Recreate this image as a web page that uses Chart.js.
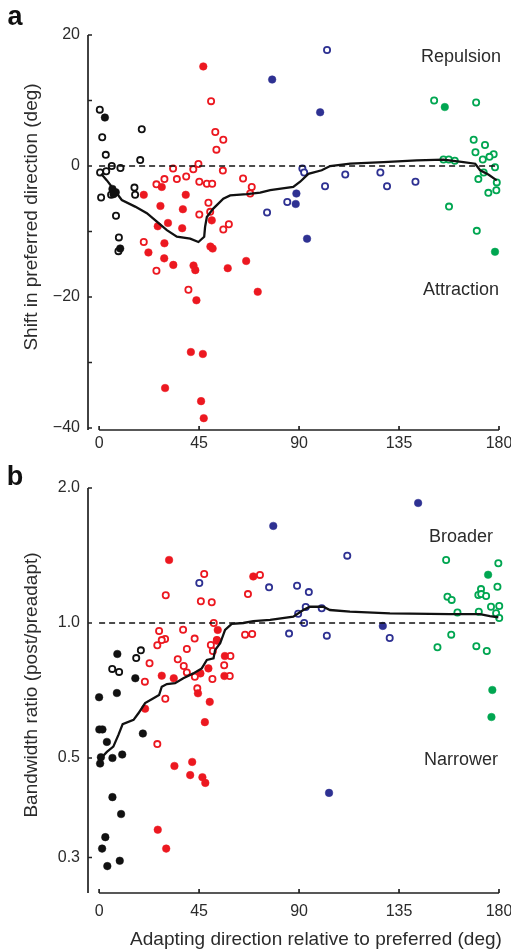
<!DOCTYPE html>
<html>
<head>
<meta charset="utf-8">
<script src="https://cdn.jsdelivr.net/npm/chart.js@4/dist/chart.umd.min.js"></script>
<style>
  html, body { margin: 0; padding: 0; background: #fff; }
  #wrap { position: relative; width: 511px; height: 952px; }
  #ca { position: absolute; left: 0; top: 0; }
  #cb { position: absolute; left: 0; top: 450px; }
</style>
</head>
<body>
<div id="wrap">
  <canvas id="ca" width="511" height="450"></canvas>
  <canvas id="cb" width="511" height="502"></canvas>
</div>
<script>
// ---- data, panel a: shift in preferred direction (deg) ----
const xTicks = [0, 45, 90, 135, 180];
const aTicks = [-40, -30, -20, -10, 0, 10, 20];
const bTicks = [0.3, 0.5, 1.0, 2.0];

const aBlackOpen = [[0.3,8.6],[1.4,4.4],[19.2,5.6],[3.0,1.7],[5.7,0],[9.6,-0.3],[18.5,0.9],[0.45,-1.0],[3.2,-0.8],
  [5.4,-4.4],[15.9,-3.3],[16.2,-4.4],[0.9,-4.8],[7.6,-7.6],[8.9,-10.9],[8.7,-13.0]];
const aBlackFill = [[2.6,7.4],[6.0,-3.5],[7.5,-4.0],[6.5,-4.3],[9.5,-12.6]];
const aRedOpen = [[50.4,9.9],[52.3,5.2],[55.9,4.0],[52.8,2.5],[33.3,-0.4],[44.7,0.3],[42.4,-0.5],[55.7,-0.7],
  [29.4,-2.0],[35,-2.0],[39.2,-1.6],[25.8,-2.8],[45.1,-2.4],[48.5,-2.7],[50.9,-2.7],[64.8,-1.9],[68.7,-3.2],
  [68,-4.2],[49.2,-5.6],[45.1,-7.4],[50,-7.0],[58.4,-8.9],[55.9,-9.7],[20.1,-11.6],[25.8,-16.0],[40.2,-18.9]];
const aRedFill = [[46.9,15.2],[28.2,-3.2],[20.1,-4.4],[39,-4.4],[27.6,-6.1],[37.7,-6.6],[50.7,-8.3],[31.0,-8.7],
  [26.4,-9.2],[37.4,-9.5],[29.4,-11.8],[22.2,-13.2],[29.3,-14.1],[33.4,-15.1],[42.5,-15.2],[43.3,-15.9],
  [50.1,-12.3],[51.1,-12.6],[57.9,-15.6],[66.2,-14.5],[71.4,-19.2],[43.8,-20.5],[41.3,-28.4],[46.7,-28.7],
  [29.7,-33.9],[45.9,-35.9],[47.1,-38.5]];
const aBlueOpen = [[102.6,17.7],[91.5,-0.4],[92.3,-1.0],[110.8,-1.3],[126.6,-1.0],[101.7,-3.1],[129.6,-3.1],
  [142.4,-2.4],[84.7,-5.5],[75.6,-7.1]];
const aBlueFill = [[77.9,13.2],[99.5,8.2],[88.8,-4.2],[88.5,-5.8],[93.6,-11.1]];
const aGreenOpen = [[150.8,10.0],[169.7,9.7],[168.6,4.0],[173.7,3.2],[169.4,2.1],[177.6,1.8],[175.7,1.4],
  [172.7,1.0],[178.2,-0.2],[155,1.0],[157.4,1.0],[160.1,0.8],[173.1,-1.0],[170.7,-2.0],[179,-2.5],[178.8,-3.7],
  [175.2,-4.1],[157.5,-6.2],[170,-9.9]];
const aGreenFill = [[155.6,9.0],[178.2,-13.1]];
const aMean = [[0.9,-1.2],[3.5,-2.2],[8,-4.2],[10.2,-5.2],[16.2,-6.2],[21.5,-7.2],[26,-8.5],[30.5,-9.8],[35,-10.8],
  [41,-11.1],[44.7,-11.6],[47.3,-10.8],[47.7,-9.3],[48.5,-7.8],[51.4,-6.5],[55.9,-5.0],[59,-4.5],[66.5,-4.3],
  [72.5,-4.05],[77,-3.7],[87.4,-3.2],[90.5,-2.4],[94.2,-1.2],[100.2,-0.65],[104,0],[113,0.35],[128,0.6],
  [143,0.87],[155,0.97],[164,0.6],[169.3,0.35],[171.5,-0.65],[175.2,-1.3],[179,-2.2]];

// ---- data, panel b: bandwidth ratio (post/preadapt) ----
const bBlackOpen = [[18.8,0.869],[16.7,0.835],[5.9,0.79],[9.0,0.778]];
const bBlackFill = [[8.2,0.853],[16.3,0.753],[0,0.683],[8,0.698],[0.1,0.579],[1.5,0.579],[19.7,0.567],[3.5,0.543],
  [10.4,0.509],[6,0.5],[0.8,0.502],[0.45,0.486],[6,0.409],[9.9,0.375],[2.8,0.333],[1.35,0.314],[9.3,0.295],[3.7,0.287]];
const bRedOpen = [[47.3,1.286],[30,1.153],[45.8,1.118],[50.7,1.112],[72.4,1.28],[67,1.16],[51.6,1.0],[27,0.96],
  [37.8,0.966],[29.7,0.921],[28.2,0.916],[26.2,0.892],[43,0.923],[65.7,0.942],[68.9,0.945],[53,0.916],[50.3,0.893],
  [51.2,0.866],[39.5,0.875],[22.7,0.813],[35.4,0.83],[38.1,0.802],[39.5,0.776],[59.1,0.844],[56.3,0.805],
  [58.8,0.762],[43.1,0.759],[51,0.75],[20.6,0.74],[44.2,0.715],[29.8,0.678],[26.2,0.537]];
const bRedFill = [[31.5,1.382],[69.4,1.27],[53.4,0.965],[53.1,0.913],[56.6,0.844],[49.2,0.792],[45.6,0.772],
  [28.2,0.763],[33.6,0.753],[56.4,0.762],[44.5,0.697],[49.8,0.667],[20.7,0.644],[47.6,0.601],[33.9,0.48],
  [41.9,0.49],[41,0.458],[46.5,0.453],[47.8,0.44],[26.4,0.346],[30.2,0.314]];
const bBlueOpen = [[45.1,1.228],[111.7,1.413],[76.5,1.201],[89.1,1.211],[94.4,1.172],[93,1.086],[89.6,1.049],
  [100.2,1.078],[92.3,1.0],[85.5,0.947],[102.5,0.937],[130.8,0.926]];
const bBlueFill = [[78.4,1.646],[143.6,1.852],[127.7,0.985],[103.5,0.418]];
const bGreenOpen = [[156.2,1.382],[179.7,1.359],[179.3,1.205],[171.9,1.19],[170.7,1.155],[172,1.16],[174.2,1.149],
  [156.8,1.145],[158.7,1.126],[176.4,1.087],[180.1,1.091],[161.3,1.056],[170.9,1.06],[178.7,1.051],[180.1,1.026],
  [158.5,0.942],[152.3,0.883],[169.8,0.888],[174.5,0.866]];
const bGreenFill = [[175.1,1.281],[177,0.709],[176.6,0.617]];
const bMean = [[0.45,0.497],[3.5,0.516],[6.4,0.53],[8.7,0.563],[10.6,0.595],[15.5,0.608],[17.7,0.629],[20.7,0.663],
  [23.7,0.676],[27,0.691],[28.2,0.721],[30.5,0.731],[34.2,0.734],[37.9,0.753],[42.4,0.772],[46.2,0.792],
  [48.5,0.827],[51.5,0.834],[52.2,0.87],[54.5,0.901],[56.7,0.965],[59.7,0.995],[64.9,1.0],[69.4,1.01],[77,1.016],
  [87.4,1.033],[91.9,1.069],[94.9,1.087],[100.9,1.087],[103.9,1.069],[112.9,1.06],[130.9,1.051],[157.9,1.047],
  [171.4,1.047],[175.9,1.036],[179.7,1.03]];

const FONT = "'Liberation Sans', Arial, Helvetica, sans-serif";
const RED = '#ec1820', BLUE = '#2e3192', GREEN = '#00a651', BLACK = '#111111';
const INK = '#222222';

function pts(arr) { return arr.map(p => ({ x: p[0], y: p[1] })); }

function openSet(arr, color) {
  return { data: pts(arr), backgroundColor: '#ffffff', borderColor: color, borderWidth: 1.8,
    pointRadius: 3.1, pointHoverRadius: 3.1, clip: false, order: 3 };
}
function fillSet(arr, color) {
  return { data: pts(arr), backgroundColor: color, borderColor: color, borderWidth: 0.5,
    pointRadius: 3.8, pointHoverRadius: 3.8, clip: false, order: 2 };
}
function meanSet(arr) {
  return { data: pts(arr), showLine: true, borderColor: BLACK, borderWidth: 2.3, pointRadius: 0,
    tension: 0, clip: false, order: 0 };
}
function refSet(v) {
  return { data: [{ x: 0, y: v }, { x: 180, y: v }], showLine: true, borderColor: BLACK, borderWidth: 1.6,
    borderDash: [6, 4], pointRadius: 0, clip: false, order: 1 };
}

// axes drawn by hand: detached, inward ticks, plus texts
const decor = {
  id: 'decor',
  afterDraw(chart, args, o) {
    const ctx = chart.ctx, xs = chart.scales.x, ys = chart.scales.y, a = chart.chartArea;
    const axY = a.bottom + o.xGap;
    ctx.save();
    ctx.strokeStyle = INK;
    ctx.lineWidth = 1.7;
    ctx.beginPath();
    ctx.moveTo(a.left, a.top);
    ctx.lineTo(a.left, axY);
    ys.ticks.forEach(t => {
      const py = ys.getPixelForValue(t.value);
      ctx.moveTo(a.left, py);
      ctx.lineTo(a.left + 4, py);
    });
    const x0 = xs.getPixelForValue(0), x1 = xs.getPixelForValue(180);
    ctx.moveTo(x0, axY);
    ctx.lineTo(x1, axY);
    xs.ticks.forEach(t => {
      const px = xs.getPixelForValue(t.value);
      ctx.moveTo(px, axY);
      ctx.lineTo(px, axY - 4);
    });
    ctx.stroke();

    o.texts.forEach(t => {
      ctx.save();
      ctx.fillStyle = t.color || '#2b2b2b';
      ctx.font = t.font;
      ctx.textAlign = t.align || 'center';
      ctx.textBaseline = 'middle';
      ctx.translate(t.x, t.y);
      if (t.rot) ctx.rotate(-Math.PI / 2);
      ctx.fillText(t.text, 0, 0);
      ctx.restore();
    });
    ctx.restore();
  }
};

function makeChart(id, cfg) {
  return new Chart(document.getElementById(id), {
    type: 'scatter',
    data: { datasets: cfg.datasets },
    options: {
      responsive: false,
      animation: false,
      events: [],
      layout: { padding: { top: cfg.top, right: 12, left: 0, bottom: 0 } },
      plugins: { legend: { display: false }, tooltip: { enabled: false }, decor: { xGap: cfg.xGap, texts: cfg.texts } },
      scales: {
        x: {
          type: 'linear', min: -5, max: 180,
          grid: { display: false, drawTicks: false }, border: { display: false },
          afterBuildTicks: s => { s.ticks = xTicks.map(v => ({ value: v })); },
          afterFit: s => { s.height = cfg.xHeight; s.paddingLeft = 0; s.paddingRight = 0; },
          ticks: { padding: cfg.xPad, color: '#2b2b2b', font: { family: FONT, size: 16 }, maxRotation: 0,
            callback: v => String(v) }
        },
        y: cfg.y
      }
    },
    plugins: [decor]
  });
}

makeChart('ca', {
  top: 35, xHeight: 22, xPad: 6, xGap: 2,
  datasets: [
    meanSet(aMean), refSet(0),
    openSet(aBlackOpen, BLACK), fillSet(aBlackFill, BLACK),
    openSet(aRedOpen, RED), fillSet(aRedFill, RED),
    openSet(aBlueOpen, BLUE), fillSet(aBlueFill, BLUE),
    openSet(aGreenOpen, GREEN), fillSet(aGreenFill, GREEN)
  ],
  y: {
    type: 'linear', min: -40, max: 20,
    grid: { display: false, drawTicks: false }, border: { display: false },
    afterBuildTicks: s => { s.ticks = aTicks.map(v => ({ value: v })); },
    afterFit: s => { s.width = 88; s.paddingTop = 0; s.paddingBottom = 0; },
    ticks: { padding: 8, color: '#2b2b2b', font: { family: FONT, size: 16 },
      callback: v => (v % 20 === 0 ? String(v).replace('-', '\u2212') : '') }
  },
  texts: [
    { text: 'a', x: 15, y: 18, font: 'bold 27px ' + FONT, color: '#111' },
    { text: 'Shift in preferred direction (deg)', x: 32, y: 217, font: '19px ' + FONT, rot: true },
    { text: 'Repulsion', x: 461, y: 57, font: '18px ' + FONT },
    { text: 'Attraction', x: 461, y: 290, font: '18px ' + FONT }
  ]
});

makeChart('cb', {
  top: 38, xHeight: 59, xPad: 9, xGap: 0,
  datasets: [
    meanSet(bMean), refSet(1.0),
    openSet(bBlackOpen, BLACK), fillSet(bBlackFill, BLACK),
    openSet(bRedOpen, RED), fillSet(bRedFill, RED),
    openSet(bBlueOpen, BLUE), fillSet(bBlueFill, BLUE),
    openSet(bGreenOpen, GREEN), fillSet(bGreenFill, GREEN)
  ],
  y: {
    type: 'logarithmic', min: 0.25, max: 2.0,
    grid: { display: false, drawTicks: false }, border: { display: false },
    afterBuildTicks: s => { s.ticks = bTicks.map(v => ({ value: v })); },
    afterFit: s => { s.width = 88; s.paddingTop = 0; s.paddingBottom = 0; },
    ticks: { padding: 8, color: '#2b2b2b', font: { family: FONT, size: 16 },
      callback: v => Number(v).toFixed(1) }
  },
  texts: [
    { text: 'b', x: 15, y: 28, font: 'bold 27px ' + FONT, color: '#111' },
    { text: 'Bandwidth ratio (post/preadapt)', x: 32, y: 235, font: '19px ' + FONT, rot: true },
    { text: 'Broader', x: 461, y: 87, font: '18px ' + FONT },
    { text: 'Narrower', x: 461, y: 310, font: '18px ' + FONT },
    { text: 'Adapting direction relative to preferred (deg)', x: 316, y: 490, font: '19px ' + FONT }
  ]
});
</script>
</body>
</html>
